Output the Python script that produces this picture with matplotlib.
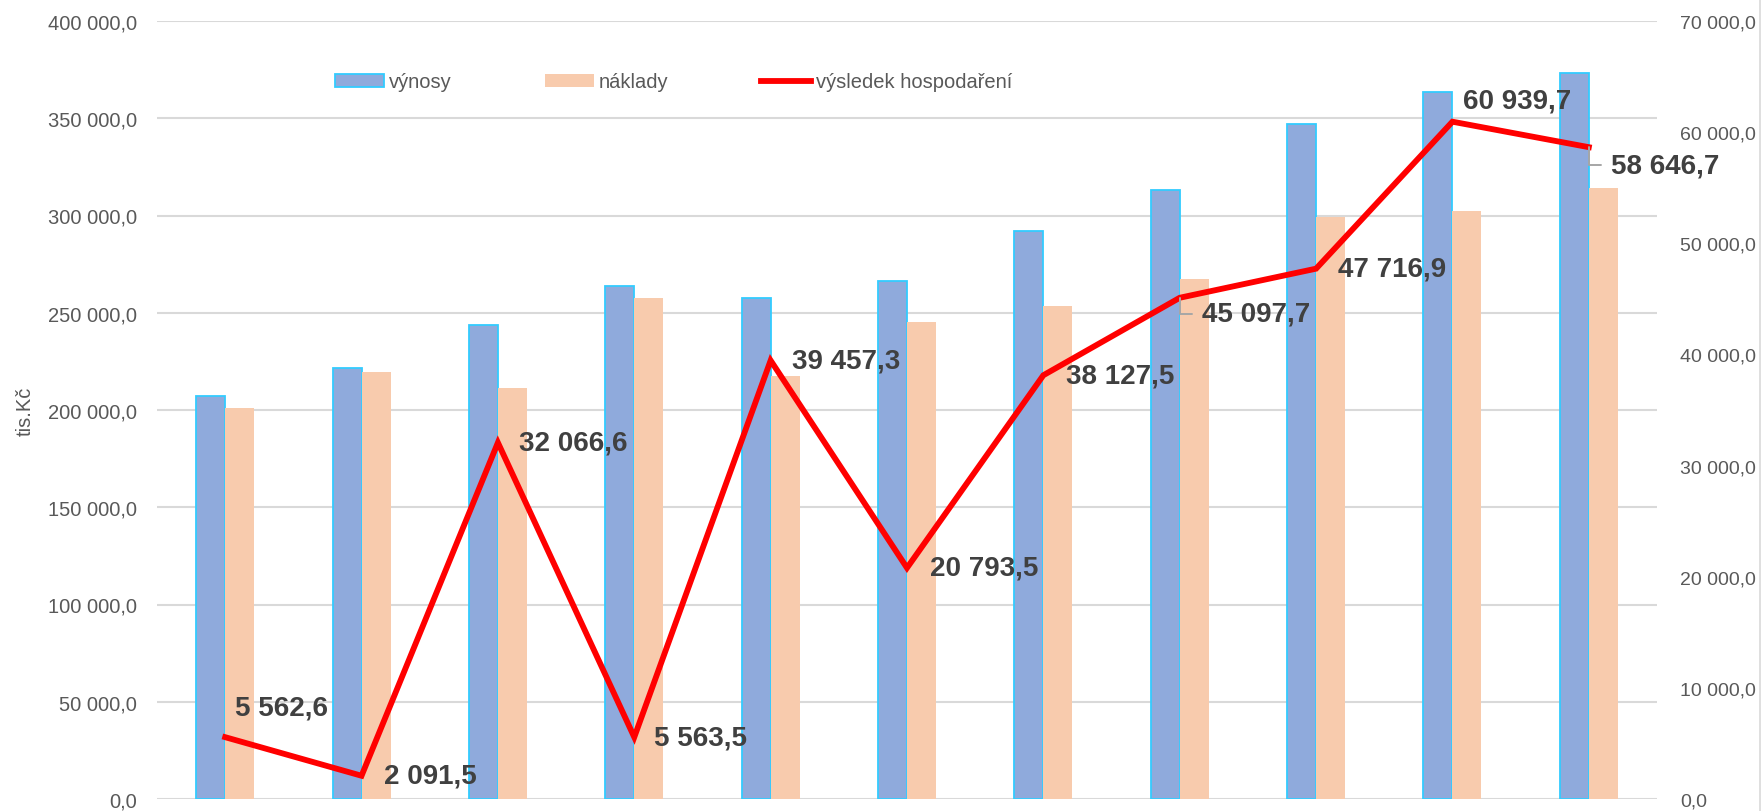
import numpy as np
import matplotlib
matplotlib.use("Agg")
import matplotlib.pyplot as plt
from matplotlib.patches import Patch
from matplotlib.lines import Line2D
from matplotlib.ticker import FuncFormatter

plt.rcParams['font.family'] = ['Liberation Sans', 'DejaVu Sans']

# data (tis. Kč)
vynosy = [207050, 221750, 243700, 263600, 257400, 266300, 291800, 313000, 346900, 363500, 373100]
naklady = [201180, 219540, 211300, 257700, 217600, 245400, 253500, 267350, 299100, 302150, 314100]
vysledek = [5562.6, 2091.5, 32066.6, 5563.5, 39457.3, 20793.5, 38127.5, 45097.7, 47716.9, 60939.7, 58646.7]
series_names = ['výnosy', 'náklady', 'výsledek hospodaření']
y_label = 'tis.Kč'

# label offsets in pixels (left edge of text, vertical centre) and leader-line flag
label_offsets = [(10, 30, False), (22, 0, False), (21, 0, False), (20, 0, False),
                 (21, 0, False), (23, 0, False), (23, 0, False), (22, -16, True),
                 (22, 0, False), (11, 21, False), (22, -18, True)]


def cz_fmt(v, pos=None):
    s = f"{v:,.1f}"
    return s.replace(',', ' ').replace('.', ',')


BLUE = '#8FAADC'
CYAN = '#33CCFF'
PEACH = '#F8CBAD'
RED = '#FF0000'
GRID = '#D9D9D9'
TICK = '#595959'
LABEL = '#404040'

W, H = 1763, 812
fig = plt.figure(figsize=(W / 100, H / 100), dpi=100)
ax = fig.add_axes([157 / W, 1 - 800 / H, 1500 / W, 778 / H])
ax2 = ax.twinx()

x = np.arange(len(vynosy))
bw = 0.2126
ax.bar(x - bw / 2, vynosy, width=bw, color=BLUE, edgecolor=CYAN, linewidth=1.3, zorder=3)
ax.bar(x + bw / 2, naklady, width=bw, color=PEACH, linewidth=0, zorder=3)

ax.set_xlim(-0.5, len(vynosy) - 0.5)
ax.set_ylim(0, 400000)
ax.set_yticks(np.arange(0, 400001, 50000))
ax.yaxis.set_major_formatter(FuncFormatter(cz_fmt))
ax.grid(axis='y', color=GRID, linewidth=1.5, zorder=0)
ax.set_axisbelow(True)
ax.set_xticks([])
for sp in ax.spines.values():
    sp.set_visible(False)
ax.tick_params(axis='y', length=0, pad=14.4, labelsize=14.5, labelcolor=TICK)
ax.set_ylabel(y_label, fontsize=14.5, color=TICK)
ax.yaxis.set_label_coords((25 - 157) / 1500, 0.5)
ax.yaxis.label.set_va('center')

ax2.plot(x, vysledek, color=RED, linewidth=4.2, solid_joinstyle='miter', zorder=5)
ax2.set_ylim(0, 70000)
ax2.set_yticks(np.arange(0, 70001, 10000))
ax2.yaxis.set_major_formatter(FuncFormatter(cz_fmt))
for sp in ax2.spines.values():
    sp.set_visible(False)
ax2.tick_params(axis='y', length=0, pad=16.5, labelsize=14, labelcolor=TICK)
for lab in ax2.get_yticklabels():
    lab.set_horizontalalignment('left')

for i, v in enumerate(vysledek):
    dx, dy, leader = label_offsets[i]
    kw = {}
    if leader:
        kw['arrowprops'] = dict(arrowstyle='-', color='#A6A6A6', linewidth=1.4,
                                connectionstyle='angle,angleA=0,angleB=90,rad=0',
                                relpos=(0, 0.5), shrinkA=5, shrinkB=0)
    ax2.annotate(cz_fmt(v), xy=(i, v), xytext=(dx, dy), textcoords='offset pixels',
                 ha='left', va='center', fontsize=20, fontweight='bold', color=LABEL,
                 zorder=6, **kw)

handles = [Patch(facecolor=BLUE, edgecolor=CYAN, linewidth=1.3),
           Patch(facecolor=PEACH, edgecolor='none'),
           Line2D([0], [0], color=RED, linewidth=4.2)]
fig.legend(handles, series_names, loc='center left', bbox_to_anchor=(335 / W, 1 - 83 / H),
           ncol=3, frameon=False, fontsize=14.5, labelcolor=TICK, handlelength=2.45,
           handleheight=0.65, handletextpad=0.25, columnspacing=4.6,
           borderpad=0, borderaxespad=0)

fig.add_artist(Line2D([1760 / W, 1760 / W], [0, 1], color=GRID, linewidth=1.2))

fig.savefig('out.png', dpi=100)
